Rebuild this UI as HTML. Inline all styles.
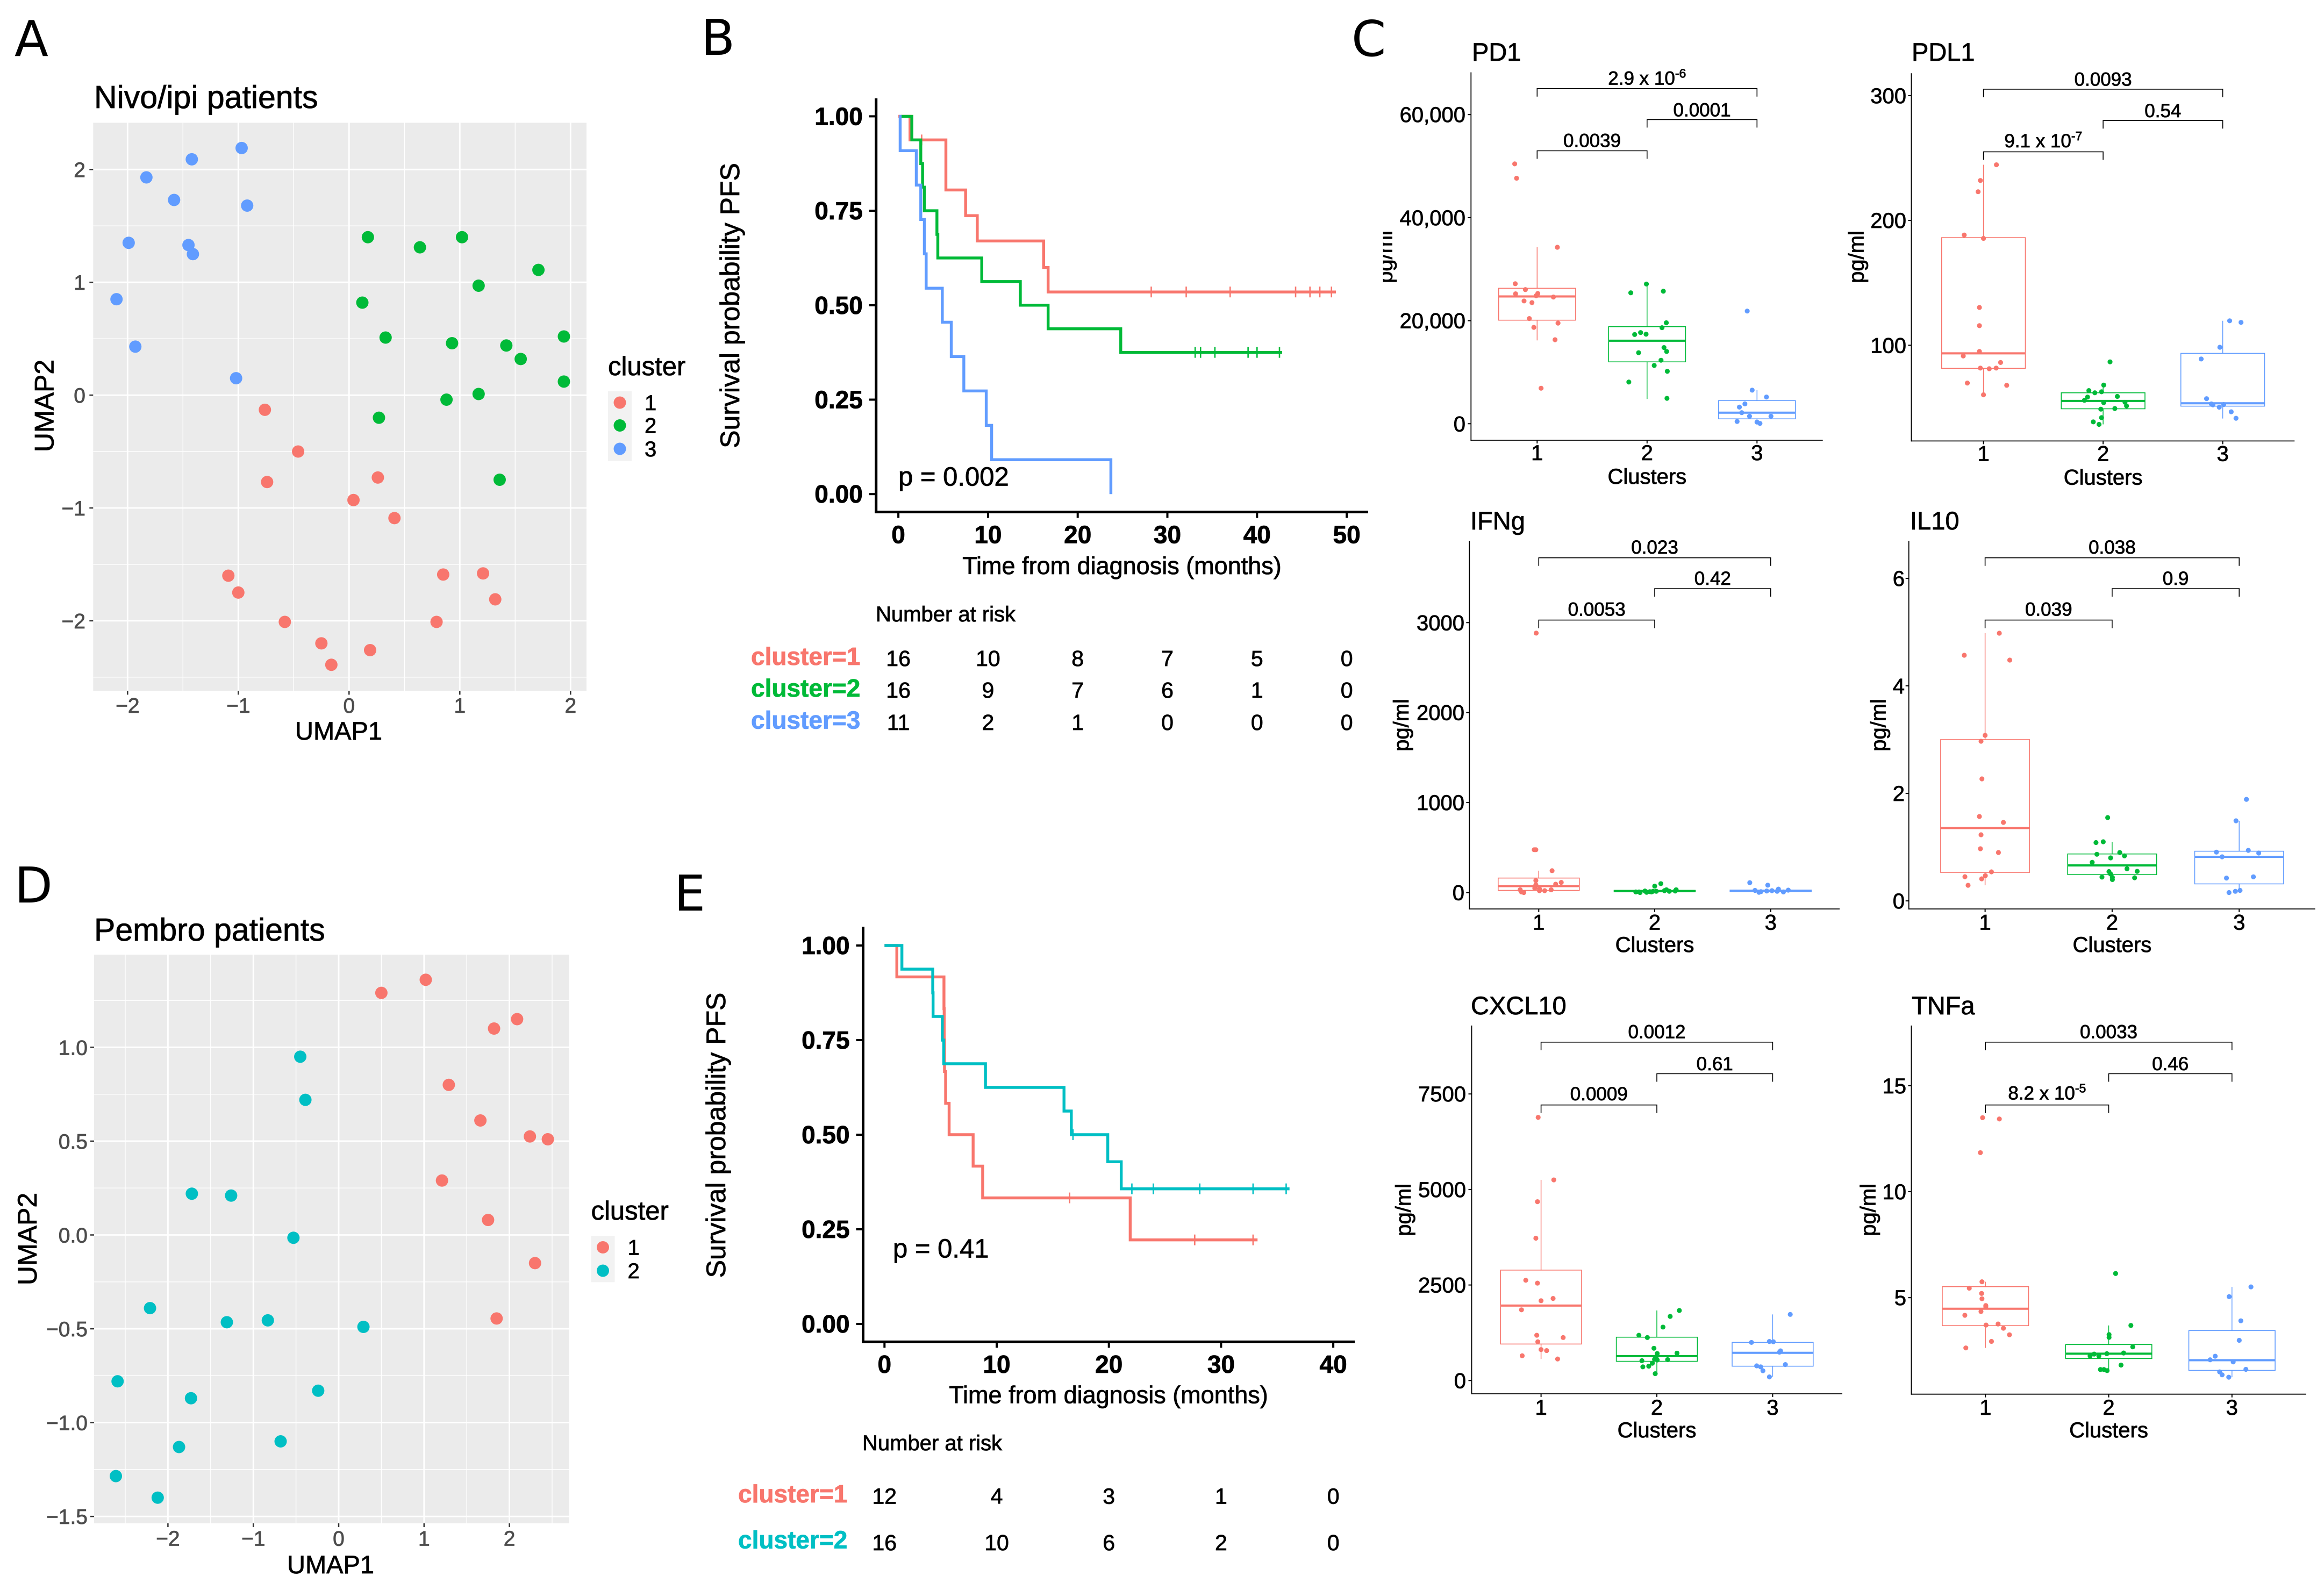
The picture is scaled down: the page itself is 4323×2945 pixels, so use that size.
<!DOCTYPE html>
<html lang="en">
<head>
<meta charset="utf-8">
<title>Cluster survival and cytokine figure</title>
<style>
html,body{margin:0;padding:0;background:#fff}
svg{display:block}
text{font-family:"Liberation Sans",Arial,sans-serif;fill:#000;stroke:#000;stroke-width:.8px}
.letter{font-family:"DejaVu Sans",sans-serif;font-size:92px;stroke-width:0}
.umap-title{font-size:59px}
.umap-axis{font-size:47px}
.umap-axis-y{font-size:50px}
.legend-title{font-size:49px}
.legend-label{font-size:40px}
.km-axis{font-size:45px}
.km-y{font-size:50px}
.km-p{font-size:49px}
.km-risk{font-size:40px}
.box-title{font-size:47px}
.box-y{font-size:40px}
</style>
</head>
<body>
<svg id="figure" xmlns="http://www.w3.org/2000/svg" width="4323" height="2945" viewBox="0 0 4323 2945">
<rect width="4323" height="2945" fill="#fff"/>
<text class="letter" x="27" y="104">A</text>
<text class="letter" x="1304" y="102">B</text>
<text class="letter" x="2514" y="104">C</text>
<text class="letter" x="27" y="1679">D</text>
<text class="letter" x="1254" y="1694">E</text>

<g id="panel-a"></g>
<text class="umap-title" x="175" y="201">Nivo/ipi patients</text>
<text class="umap-axis" x="630" y="1376" text-anchor="middle">UMAP1</text>
<text class="umap-axis-y" transform="translate(99.5,755) rotate(-90)" text-anchor="middle">UMAP2</text>
<text class="legend-title" x="1131" y="698">cluster</text>

<g id="panel-d"></g>
<text class="umap-title" x="175" y="1750">Pembro patients</text>
<text class="umap-axis" x="615" y="2927" text-anchor="middle">UMAP1</text>
<text class="umap-axis-y" transform="translate(68,2305) rotate(-90)" text-anchor="middle">UMAP2</text>
<text class="legend-title" x="1099.5" y="2269">cluster</text>

<g id="panel-b"></g>
<text class="km-axis" x="2087" y="1068" text-anchor="middle">Time from diagnosis (months)</text>
<text class="km-y" transform="translate(1375,568.5) rotate(-90)" text-anchor="middle">Survival probability PFS</text>
<text class="km-p" x="1671" y="903.4">p = 0.002</text>
<text class="km-risk" x="1629" y="1156">Number at risk</text>

<g id="panel-e"></g>
<text class="km-axis" x="2062" y="2610.5" text-anchor="middle">Time from diagnosis (months)</text>
<text class="km-y" transform="translate(1349,2112) rotate(-90)" text-anchor="middle">Survival probability PFS</text>
<text class="km-p" x="1661" y="2339.4">p = 0.41</text>
<text class="km-risk" x="1604" y="2698">Number at risk</text>

<defs><clipPath id="pd1-y-clip"><rect x="2572.7" y="380" width="40" height="200"/></clipPath></defs>
<g clip-path="url(#pd1-y-clip)">
<text class="box-y" transform="translate(2589.7,478) rotate(-90)" text-anchor="middle">pg/ml</text>
</g>
<g id="panel-pd1"></g>
<g id="panel-pdl1"></g>
<g id="panel-ifng"></g>
<g id="panel-il10"></g>
<g id="panel-cxcl10"></g>
<g id="panel-tnfa"></g>
</svg>

<script>
/* ---------- Panel A: Nivo/ipi UMAP ---------- */
const nivoXTicks=[-2,-1,0,1,2];
const nivoYTicks=[2,1,0,-1,-2];
const nivoXMinor=[-1.5,-0.5,0.5,1.5];
const nivoYMinor=[1.5,0.5,-0.5,-1.5,-2.5];
const nivoLegendLabels=['1','2','3'];
const nivoC1X=[-0.76,-0.46,-0.74,0.26,0.04,0.41,-1.09,-1.00,-0.58,-0.25,-0.16,0.19,0.79,0.85,1.21,1.32];
const nivoC1Y=[-0.13,-0.50,-0.77,-0.73,-0.93,-1.09,-1.60,-1.75,-2.01,-2.20,-2.39,-2.26,-2.01,-1.59,-1.58,-1.81];
const nivoC2X=[0.17,0.64,1.02,1.71,1.17,0.12,0.33,0.93,1.42,1.55,1.94,1.94,1.17,0.88,0.27,1.36];
const nivoC2Y=[1.40,1.31,1.40,1.11,0.97,0.82,0.51,0.46,0.44,0.32,0.52,0.12,0.01,-0.04,-0.20,-0.75];
const nivoC3X=[-0.97,-1.42,-1.83,-1.58,-0.92,-1.99,-1.45,-1.41,-2.10,-1.93,-1.02];
const nivoC3Y=[2.19,2.09,1.93,1.73,1.68,1.35,1.33,1.25,0.85,0.43,0.15];

/* ---------- Panel D: Pembro UMAP ---------- */
const pembroXTicks=[-2,-1,0,1,2];
const pembroYTicks=[1,0.5,0,-0.5,-1,-1.5];
const pembroXMinor=[-2.5,-1.5,-0.5,0.5,1.5,2.5];
const pembroYMinor=[1.25,0.75,0.25,-0.25,-0.75,-1.25];
const pembroLegendLabels=['1','2'];
const pembroC1X=[0.50,1.02,1.82,2.09,1.29,1.66,2.24,2.45,1.21,1.75,2.30,1.85];
const pembroC1Y=[1.29,1.36,1.10,1.15,0.80,0.61,0.525,0.51,0.29,0.08,-0.15,-0.445];
const pembroC2X=[-0.45,-0.39,-1.72,-1.26,-0.53,-2.21,-1.31,-0.83,0.29,-2.59,-1.73,-0.24,-1.87,-0.68,-2.61,-2.12];
const pembroC2Y=[0.95,0.72,0.22,0.21,-0.015,-0.39,-0.465,-0.455,-0.49,-0.78,-0.87,-0.83,-1.13,-1.10,-1.285,-1.40];

/* ---------- Panel B: Nivo/ipi survival ---------- */
const kmBXTicks=[0,10,20,30,40,50];
const kmBYTicks=[1,0.75,0.5,0.25,0];
const kmB1Times=[1.3,5.3,7.5,8.8,16.2,16.7];
const kmB1Surv=[0.9375,0.805,0.737,0.67,0.60,0.535];
const kmB1End=48.8;
const kmB1Censor=[2.6,28.2,32.1,37.0,44.3,45.9,47.0,48.3];
const kmB2Times=[1.5,2.5,2.7,2.9,4.3,4.4,9.3,13.6,16.7,24.8];
const kmB2Surv=[0.9375,0.875,0.8125,0.75,0.6875,0.625,0.5625,0.50,0.4375,0.375];
const kmB2End=42.8;
const kmB2Censor=[33.1,33.7,35.3,39.0,40.0,42.5];
const kmB3Times=[0.2,2.0,2.5,2.9,3.1,4.9,5.9,7.3,9.8,10.4,23.7];
const kmB3Surv=[0.909,0.818,0.727,0.636,0.545,0.455,0.364,0.273,0.182,0.091,0];
const kmB3End=23.7;
const kmB3Censor=[];
const riskBLabels=['cluster=1','cluster=2','cluster=3'];
const riskB1=[16,10,8,7,5,0];
const riskB2=[16,9,7,6,1,0];
const riskB3=[11,2,1,0,0,0];

/* ---------- Panel E: Pembro survival ---------- */
const kmEXTicks=[0,10,20,30,40];
const kmEYTicks=[1,0.75,0.5,0.25,0];
const kmE1Times=[1.1,5.3,5.32,5.35,5.45,5.76,7.9,8.75,21.9];
const kmE1Surv=[0.917,0.833,0.75,0.667,0.583,0.5,0.417,0.333,0.222];
const kmE1End=33.25;
const kmE1Censor=[16.5,27.65,32.85];
const kmE2Times=[1.55,4.3,4.33,5.15,5.28,9.0,16.0,16.65,19.9,21.1];
const kmE2Surv=[0.9375,0.875,0.8125,0.75,0.6875,0.625,0.5625,0.5,0.4286,0.357];
const kmE2End=36.1;
const kmE2Censor=[16.8,22.05,23.96,28.1,32.85,35.8];
const riskELabels=['cluster=1','cluster=2'];
const riskE1=[12,4,3,1,0];
const riskE2=[16,10,6,2,0];

/* ---------- Panel C: cytokine box plots ---------- */
const boxCategories=['1','2','3'];

const pd1Ticks=[60000,40000,20000,0];
const pd1Pvals=['0.0039','0.0001','2.9 x 10^-6'];
const pd1V1=[50434,47653,34254,27176,26038,25217,25280,24838,24585,23826,23510,20414,19529,18707,16306,6889];
const pd1J1=[-.204,-.187,.184,-.199,-.107,-.196,.006,-.009,.148,-.119,-.047,-.071,.19,-.03,.163,.036];
const pd1B1=[16179,20098,24711,26291,34254];
const pd1V2=[27113,25406,25722,19592,18644,17317,17696,17380,14789,14030,13778,12324,11313,10175,8090,4930];
const pd1J2=[-.006,-.148,.148,.175,.136,-.113,-.059,-.009,.154,.178,-.077,.127,.065,.184,-.166,.181];
const pd1B2=[4803,12008,16116,18834,27113];
const pd1V3=[21867,6510,5182,3855,3223,2149,1454,1454,442,316,63];
const pd1J3=[-.089,-.044,.086,-.11,-.16,-.139,-.068,.127,-.181,0,.027];
const pd1B3=[63,948,2149,4487,6510];

const pdl1Ticks=[300,200,100];
const pdl1Pvals=['9.1 x 10^-7','0.54','0.0093'];
const pdl1V1=[244.6,232,223,188.3,185.6,130.3,115.7,95,91.4,86.2,81.7,81.2,81.7,69.7,67.9,60.3];
const pdl1J1=[.108,-.026,-.045,-.161,0,-.034,-.034,-.034,-.169,.143,-.026,.048,.106,-.135,.194,0];
const pdl1B1=[59.3,81.5,93.5,186.2,244.6];
const pdl1V2=[86.7,68.1,63.7,61.9,62.7,59,58.5,55.9,54,54.3,51.4,48.8,49.3,42,38.6,36.6];
const pdl1J2=[.058,.005,-.119,-.069,-.013,.119,-.13,-.156,.005,.183,.196,-.019,.098,-.013,-.082,-.034];
const pdl1B2=[36.6,49.1,55.4,61.9,68.1];
const pdl1V3=[119.6,118.3,98.4,89,57.2,53,52.2,52.5,50.4,46.7,41.5];
const pdl1J3=[.058,.153,-.024,-.18,-.135,-.095,-.082,.008,-.029,.071,.111];
const pdl1B3=[41.3,51.2,53.5,93.5,119.6];

const ifngTicks=[3000,2000,1000,0];
const ifngPvals=['0.0053','0.42','0.023'];
const ifngV1=[2883,476,476,243,134,113,93,86,48,41,31,21,31,21,7,0];
const ifngJ1=[-.022,-.039,-.025,.115,-.025,.194,.146,-.025,-.034,.006,-.16,.051,.107,.006,-.149,-.129];
const ifngB1=[0,24,72,161,243];
const ifngV2=[99,72,31,31,17,17,21,14,10,7,7,3,0,7,14,14];
const ifngJ2=[.053,0,.101,.185,.177,-.084,.084,-.014,-.042,-.163,-.135,-.07,-.126,-.028,.126,.014];
const ifngB2=[0,8,17,24,31];
const ifngV3=[110,82,24,38,21,17,3,14,7,27,10];
const ifngJ3=[-.18,-.025,-.135,.067,.011,-.034,-.101,.056,.11,.152,-.084];
const ifngB3=[3,12,21,28,38];

const il10Ticks=[6,4,2,0];
const il10Pvals=['0.039','0.9','0.038'];
const il10V1=[4.98,4.57,4.48,3.08,2.97,2.27,1.57,1.46,1.23,.97,.90,.54,.47,.45,.41,.29];
const il10J1=[.112,-.164,.194,0,-.032,-.025,-.045,.144,-.032,-.037,.105,.05,.002,-.159,-.027,-.134];
const il10B1=[.29,.53,1.355,3.0,4.98];
const il10V2=[1.55,1.10,1.085,.90,.867,.838,.80,.718,.597,.545,.55,.50,.442,.43,.436,.396];
const il10J2=[-.035,-.07,-.127,.06,-.12,.097,-.012,-.157,.117,-.025,.197,-.012,-.08,.177,.002,.002];
const il10B2=[.396,.488,.66,.873,1.10];
const il10V3=[1.889,1.49,.94,.907,.89,.82,.425,.448,.195,.178,.155];
const il10J3=[.057,-.025,.072,-.179,.154,-.134,-.1,.112,.007,-.03,-.08];
const il10B3=[.155,.316,.82,.924,1.49];

const cxclTicks=[7500,5000,2500,0];
const cxclPvals=['0.0009','0.61','0.0012'];
const cxclV1=[6887,5251,4680,3725,2625,2549,2148,2088,1850,1185,1125,1014,810,784,648,563];
const cxclJ1=[-.025,.11,-.031,-.045,-.132,-.031,.104,0,-.169,-.037,.191,-.028,0,.048,-.163,.143];
const cxclB1=[563,955,1961,2890,5251];
const cxclV2=[1833,1679,1398,1185,1125,844,707,716,580,554,537,546,520,452,375,358,179];
const cxclJ2=[.194,.115,.053,-.155,-.082,-.025,.003,.174,-.006,-.02,.003,.093,-.129,-.039,-.07,-.121,-.014];
const cxclB2=[179,503,639,1134,1833];
const cxclV3=[1730,997,1023,1014,776,742,418,384,358,256,94];
const cxclJ3=[.152,-.183,-.028,.006,.068,.059,.11,-.138,-.104,-.084,-.028];
const cxclB3=[94,375,725,997,1730];

const tnfaTicks=[15,10,5];
const tnfaPvals=['8.2 x 10^-5','0.46','0.0033'];
const tnfaV1=[13.49,13.43,11.84,5.75,5.45,5.2,4.95,4.63,4.57,4.35,4.17,3.71,3.76,3.56,3.25,2.94,2.63];
const tnfaJ1=[-.023,.113,-.041,-.028,-.131,-.031,-.028,.003,.003,-.036,-.167,.005,.103,.146,.195,.049,-.159];
const tnfaB1=[2.63,3.68,4.48,5.52,5.75];
const tnfaV2=[6.14,3.69,3.26,3.13,2.68,2.36,2.39,2.34,2.25,2.25,1.82,1.61,1.61,1.56];
const tnfaJ2=[.056,.18,.003,.003,.195,-.015,.121,-.118,-.151,-.08,.1,-.067,-.039,-.013];
const tnfaB2=[1.48,2.13,2.36,2.79,3.69];
const tnfaV3=[5.51,5.05,3.91,2.99,2.24,2.07,1.97,1.62,1.5,1.36,1.25];
const tnfaJ3=[.154,-.023,.072,.059,-.136,-.177,.01,.113,-.1,-.08,-.026];
const tnfaB3=[1.25,1.57,2.05,3.45,5.51];

const RED='#F8766D',GREEN='#00BA38',BLUE='#619CFF',TEAL='#00BFC4';
const SVGNS=document.getElementById('figure').namespaceURI;

function make(parent,tag,attrs,content){
  const el=document.createElementNS(SVGNS,tag);
  for(const k in attrs) el.setAttribute(k,attrs[k]);
  if(content!==undefined) el.textContent=content;
  parent.appendChild(el);
  return el;
}
function minus(s){return String(s).replace('-','\u2212');}

function drawUmap(id,prefix,c,xTicks,yTicks,xMinor,yMinor,fmtY,series,legendLabels){
  const root=document.getElementById(id);
  const X=v=>c.x0+v*c.xUnit, Y=v=>c.y0-v*c.yUnit;
  const bg=make(root,'rect',{x:c.left,y:c.top,width:c.right-c.left,height:c.bottom-c.top,fill:'#EBEBEB'});
  
  
  xMinor.forEach(v=>{
    const l=make(root,'line',{x1:X(v),x2:X(v),y1:c.top,y2:c.bottom,stroke:'#fff','stroke-width':1.4});
    
    
  });
  yMinor.forEach(v=>{
    const l=make(root,'line',{x1:c.left,x2:c.right,y1:Y(v),y2:Y(v),stroke:'#fff','stroke-width':1.4});
    
    
  });
  xTicks.forEach(v=>{
    const l=make(root,'line',{x1:X(v),x2:X(v),y1:c.top,y2:c.bottom,stroke:'#fff','stroke-width':2.8});
    
    
    const t=make(root,'line',{x1:X(v),x2:X(v),y1:c.bottom,y2:c.bottom+7,stroke:'#333','stroke-width':2.5});
    
    
    const s=make(root,'text',{x:X(v),y:c.xLabY,'text-anchor':'middle','font-size':39,style:'fill:#4d4d4d;stroke:#4d4d4d'},minus(v));
    
    
  });
  yTicks.forEach(v=>{
    const l=make(root,'line',{x1:c.left,x2:c.right,y1:Y(v),y2:Y(v),stroke:'#fff','stroke-width':2.8});
    
    
    const t=make(root,'line',{x1:c.left-7,x2:c.left,y1:Y(v),y2:Y(v),stroke:'#333','stroke-width':2.5});
    
    
    const s=make(root,'text',{x:c.yLabX,y:Y(v)+14,'text-anchor':'end','font-size':39,style:'fill:#4d4d4d;stroke:#4d4d4d'},minus(fmtY(v)));
    
    
  });
  series.forEach(ser=>{
    ser.x.forEach((vx,i)=>{
      const p=make(root,'circle',{cx:X(vx),cy:Y(ser.y[i]),r:11.5,fill:ser.color});
      
      
    });
  });
  const key=make(root,'rect',{x:c.legX,y:c.legTop,width:44,height:c.legBottom-c.legTop,fill:'#F2F2F2'});
  
  
  legendLabels.forEach((lab,i)=>{
    const yy=c.legY[i];
    const d=make(root,'circle',{cx:c.legX+22,cy:yy,r:11.5,fill:series[i].color});
    
    
    const s=make(root,'text',{x:c.legX+68,y:yy+14,'font-size':40},lab);
    
    
  });
}

function drawKM(id,prefix,c,xTicks,yTicks,curves,riskLabels,riskRows){
  const root=document.getElementById(id);
  const X=v=>c.x0+v*c.xUnit, Y=v=>c.y0-v*c.yUnit;
  const ya=make(root,'line',{x1:c.axisX,x2:c.axisX,y1:c.top,y2:c.axisY+2.5,stroke:'#000','stroke-width':5});
  
  
  const xa=make(root,'line',{x1:c.axisX-2.5,x2:c.right,y1:c.axisY,y2:c.axisY,stroke:'#000','stroke-width':5});
  
  
  xTicks.forEach(v=>{
    const t=make(root,'line',{x1:X(v),x2:X(v),y1:c.axisY,y2:c.axisY+11,stroke:'#000','stroke-width':4});
    
    
    const s=make(root,'text',{x:X(v),y:c.xLabY,'text-anchor':'middle','font-size':46,'font-weight':'bold'},v);
    
    
  });
  yTicks.forEach(v=>{
    const t=make(root,'line',{x1:c.axisX-13,x2:c.axisX,y1:Y(v),y2:Y(v),stroke:'#000','stroke-width':4});
    
    
    const s=make(root,'text',{x:c.yLabX,y:Y(v)+16,'text-anchor':'end','font-size':46,'font-weight':'bold'},v.toFixed(2));
    
    
  });
  curves.forEach(cv=>{
    let d='M'+X(cv.start)+' '+Y(1);
    cv.times.forEach((t,i)=>{d+=' H'+X(t)+' V'+Y(cv.surv[i]);});
    d+=' H'+X(cv.end);
    const line=make(root,'path',{d:d,fill:'none',stroke:cv.color,'stroke-width':5.4});
    
    
    cv.censor.forEach(t=>{
      let s=1;
      cv.times.forEach((tt,i)=>{if(tt<=t)s=cv.surv[i];});
      const m=make(root,'line',{x1:X(t),x2:X(t),y1:Y(s)-10,y2:Y(s)+10,stroke:cv.color,'stroke-width':2.6});
      
      
    });
  });
  riskRows.forEach((row,r)=>{
    const col=curves[r].color;
    const lab=make(root,'text',{x:c.riskLabX,y:c.riskLabY[r],'font-size':46,'font-weight':'bold',style:'fill:'+col+';stroke:'+col},riskLabels[r]);
    
    
    row.forEach((n,i)=>{
      const s=make(root,'text',{x:X(xTicks[i]),y:c.riskY[r],'text-anchor':'middle','font-size':41},n);
      
      
    });
  });
}

function drawBox(id,prefix,c,ticks,fmt,pvals,groups){
  const root=document.getElementById(id);
  const X=v=>c.x1+(v-1)*c.xStep, Y=v=>c.y0-v*c.yUnit;
  const ya=make(root,'line',{x1:c.axisX,x2:c.axisX,y1:c.top,y2:c.axisY+1,stroke:'#000','stroke-width':1.8});
  
  
  const xa=make(root,'line',{x1:c.axisX,x2:c.right,y1:c.axisY,y2:c.axisY,stroke:'#000','stroke-width':1.8});
  
  
  const title=make(root,'text',{x:c.titleX,y:c.titleY,'font-size':47},c.title);
  
  
  if(c.yTitleX){
    const yt=make(root,'text',{transform:'translate('+c.yTitleX+','+c.yTitleY+') rotate(-90)','text-anchor':'middle','font-size':40},'pg/ml');
    
    
  }
  const xt=make(root,'text',{x:X(2),y:c.clustersY,'text-anchor':'middle','font-size':40},'Clusters');
  
  
  ticks.forEach(v=>{
    const t=make(root,'line',{x1:c.axisX-6,x2:c.axisX,y1:Y(v),y2:Y(v),stroke:'#000','stroke-width':2});
    
    
    const s=make(root,'text',{x:c.yLabX,y:Y(v)+14,'text-anchor':'end','font-size':40},fmt(v));
    
    
  });
  boxCategories.forEach((cat,i)=>{
    const xv=X(i+1);
    const t=make(root,'line',{x1:xv,x2:xv,y1:c.axisY,y2:c.axisY+6,stroke:'#000','stroke-width':2});
    
    
    const s=make(root,'text',{x:xv,y:c.xLabY,'text-anchor':'middle','font-size':40},cat);
    
    
  });
  groups.forEach((g,i)=>{
    const xv=X(i+1), hw=0.35*c.xStep, b=g.box;
    const wh=make(root,'line',{x1:xv,x2:xv,y1:Y(b[4]),y2:Y(b[0]),stroke:g.color,'stroke-width':1.5});
    
    
    const rc=make(root,'rect',{x:xv-hw,y:Y(b[3]),width:2*hw,height:Math.max(Y(b[1])-Y(b[3]),0.5),fill:'#fff',stroke:g.color,'stroke-width':1.6});
    
    
    const md=make(root,'line',{x1:xv-hw,x2:xv+hw,y1:Y(b[2]),y2:Y(b[2]),stroke:g.color,'stroke-width':4});
    
    
    g.vals.forEach((v,k)=>{
      const p=make(root,'circle',{cx:xv+g.jit[k]*c.xStep,cy:Y(v),r:4.6,fill:g.color});
      
      
    });
  });
  c.brackets.forEach((br,i)=>{
    const x1=X(br.a), x2=X(br.b);
    const path=make(root,'path',{d:'M'+x1+' '+(br.y+15)+' V'+br.y+' H'+x2+' V'+(br.y+15),fill:'none',stroke:'#000','stroke-width':1.6});
    
    
    const parts=pvals[i].split('^');
    const s=make(root,'text',{x:(x1+x2)/2,y:br.labY,'text-anchor':'middle','font-size':35},parts[0]);
    
    
    if(parts[1]){
      make(s,'tspan',{'font-size':23,dy:-13},parts[1]);
    }
  });
}

drawUmap('panel-a','nivo-umap',
  {left:173.3,right:1091,top:228.4,bottom:1285.4,x0:649.3,xUnit:206,y0:735.1,yUnit:209.9,xLabY:1326,yLabX:159,
   legX:1131,legTop:727.7,legBottom:858,legY:[749,791.5,835]},
  nivoXTicks,nivoYTicks,nivoXMinor,nivoYMinor,v=>String(v),
  [{x:nivoC1X,y:nivoC1Y,color:RED,label:'1'},{x:nivoC2X,y:nivoC2Y,color:GREEN,label:'2'},{x:nivoC3X,y:nivoC3Y,color:BLUE,label:'3'}],
  nivoLegendLabels);

drawUmap('panel-d','pembro-umap',
  {left:175,right:1058.7,top:1776,bottom:2834,x0:630,xUnit:158.8,y0:2297.5,yUnit:349.1,xLabY:2875.6,yLabX:163,
   legX:1099.5,legTop:2299,legBottom:2385.4,legY:[2320.5,2364]},
  pembroXTicks,pembroYTicks,pembroXMinor,pembroYMinor,v=>v.toFixed(1),
  [{x:pembroC1X,y:pembroC1Y,color:RED,label:'1'},{x:pembroC2X,y:pembroC2Y,color:TEAL,label:'2'}],
  pembroLegendLabels);

drawKM('panel-b','nivo-survival',
  {x0:1671.1,xUnit:16.68,y0:919.2,yUnit:702.8,axisX:1629.7,axisY:952.5,top:183,right:2545,xLabY:1010.7,yLabX:1604.8,
   riskLabX:1397,riskLabY:[1237,1296,1355.6],riskY:[1239,1298,1358]},
  kmBXTicks,kmBYTicks,
  [{start:0,times:kmB1Times,surv:kmB1Surv,end:kmB1End,censor:kmB1Censor,color:RED,label:'1'},
   {start:0.3,times:kmB2Times,surv:kmB2Surv,end:kmB2End,censor:kmB2Censor,color:GREEN,label:'2'},
   {start:0.1,times:kmB3Times,surv:kmB3Surv,end:kmB3End,censor:kmB3Censor,color:BLUE,label:'3'}],
  riskBLabels,[riskB1,riskB2,riskB3]);

drawKM('panel-e','pembro-survival',
  {x0:1645.3,xUnit:20.87,y0:2463,yUnit:704,axisX:1605.5,axisY:2496.4,top:1724,right:2520,xLabY:2553.9,yLabX:1580.6,
   riskLabX:1373,riskLabY:[2795,2880.7],riskY:[2797.5,2884]},
  kmEXTicks,kmEYTicks,
  [{start:0,times:kmE1Times,surv:kmE1Surv,end:kmE1End,censor:kmE1Censor,color:RED,label:'1'},
   {start:0,times:kmE2Times,surv:kmE2Surv,end:kmE2End,censor:kmE2Censor,color:TEAL,label:'2'}],
  riskELabels,[riskE1,riskE2]);

const boxTop={a:1,b:3},boxMid={a:2,b:3},boxLow={a:1,b:2};
drawBox('panel-pd1','pd1',
  {title:'PD1',titleX:2738,titleY:113,axisX:2736.3,axisY:819,top:134.5,right:3390.7,x1:2859.3,xStep:204.5,y0:788.3,yUnit:191.7/20000,
   yLabX:2726,xLabY:856,clustersY:900,
   brackets:[{...boxLow,y:280.5,labY:273.3},{...boxMid,y:222.4,labY:216.3},{...boxTop,y:164.8,labY:157.5}]},
  pd1Ticks,v=>v.toLocaleString('en-US'),pd1Pvals,
  [{vals:pd1V1,jit:pd1J1,box:pd1B1,color:RED},{vals:pd1V2,jit:pd1J2,box:pd1B2,color:GREEN},{vals:pd1V3,jit:pd1J3,box:pd1B3,color:BLUE}]);

drawBox('panel-pdl1','pdl1',
  {title:'PDL1',titleX:3556,titleY:113,axisX:3555.4,axisY:820.4,top:136.3,right:4268.3,x1:3689.6,xStep:222.5,y0:874.5,yUnit:2.322,
   yLabX:3546,xLabY:857.4,clustersY:901.6,yTitleX:3466.5,yTitleY:478,
   brackets:[{...boxLow,y:282.4,labY:273.9},{...boxMid,y:224.2,labY:218},{...boxTop,y:166,labY:159.4}]},
  pdl1Ticks,v=>String(v),pdl1Pvals,
  [{vals:pdl1V1,jit:pdl1J1,box:pdl1B1,color:RED},{vals:pdl1V2,jit:pdl1J2,box:pdl1B2,color:GREEN},{vals:pdl1V3,jit:pdl1J3,box:pdl1B3,color:BLUE}]);

drawBox('panel-ifng','ifng',
  {title:'IFNg',titleX:2735,titleY:985,axisX:2733.3,axisY:1691,top:1006,right:3422,x1:2862.3,xStep:215.7,y0:1660.5,yUnit:0.1674,
   yLabX:2724,xLabY:1729.3,clustersY:1771,yTitleX:2620,yTitleY:1349,
   brackets:[{...boxLow,y:1153.6,labY:1145.6},{...boxMid,y:1095,labY:1088},{...boxTop,y:1037.7,labY:1030.2}]},
  ifngTicks,v=>String(v),ifngPvals,
  [{vals:ifngV1,jit:ifngJ1,box:ifngB1,color:RED},{vals:ifngV2,jit:ifngJ2,box:ifngB2,color:GREEN},{vals:ifngV3,jit:ifngJ3,box:ifngB3,color:BLUE}]);

drawBox('panel-il10','il10',
  {title:'IL10',titleX:3553,titleY:985,axisX:3550.7,axisY:1691,top:1006,right:4306.6,x1:3692.6,xStep:236.3,y0:1676,yUnit:100,
   yLabX:3543,xLabY:1729.3,clustersY:1771,yTitleX:3507.7,yTitleY:1349,
   brackets:[{...boxLow,y:1153.6,labY:1145.6},{...boxMid,y:1095,labY:1088},{...boxTop,y:1037.7,labY:1030.2}]},
  il10Ticks,v=>String(v),il10Pvals,
  [{vals:il10V1,jit:il10J1,box:il10B1,color:RED},{vals:il10V2,jit:il10J2,box:il10B2,color:GREEN},{vals:il10V3,jit:il10J3,box:il10B3,color:BLUE}]);

drawBox('panel-cxcl10','cxcl10',
  {title:'CXCL10',titleX:2736,titleY:1887,axisX:2737.5,axisY:2593,top:1907.9,right:3427,x1:2866.6,xStep:215.4,y0:2568.3,yUnit:177.7/2500,
   yLabX:2727,xLabY:2632,clustersY:2674,yTitleX:2624,yTitleY:2250.8,
   brackets:[{...boxLow,y:2055.7,labY:2047.2},{...boxMid,y:1997.5,labY:1990.9},{...boxTop,y:1938.8,labY:1931.5}]},
  cxclTicks,v=>String(v),cxclPvals,
  [{vals:cxclV1,jit:cxclJ1,box:cxclB1,color:RED},{vals:cxclV2,jit:cxclJ2,box:cxclB2,color:GREEN},{vals:cxclV3,jit:cxclJ3,box:cxclB3,color:BLUE}]);

drawBox('panel-tnfa','tnfa',
  {title:'TNFa',titleX:3556,titleY:1887,axisX:3555.4,axisY:2593.7,top:1907.9,right:4290,x1:3693.2,xStep:229.3,y0:2611.4,yUnit:39.44,
   yLabX:3546,xLabY:2632,clustersY:2674,yTitleX:3488.3,yTitleY:2250.8,
   brackets:[{...boxLow,y:2055.7,labY:2045.4},{...boxMid,y:1997.5,labY:1990.9},{...boxTop,y:1938.8,labY:1931.5}]},
  tnfaTicks,v=>String(v),tnfaPvals,
  [{vals:tnfaV1,jit:tnfaJ1,box:tnfaB1,color:RED},{vals:tnfaV2,jit:tnfaJ2,box:tnfaB2,color:GREEN},{vals:tnfaV3,jit:tnfaJ3,box:tnfaB3,color:BLUE}]);
</script>
</body>
</html>
